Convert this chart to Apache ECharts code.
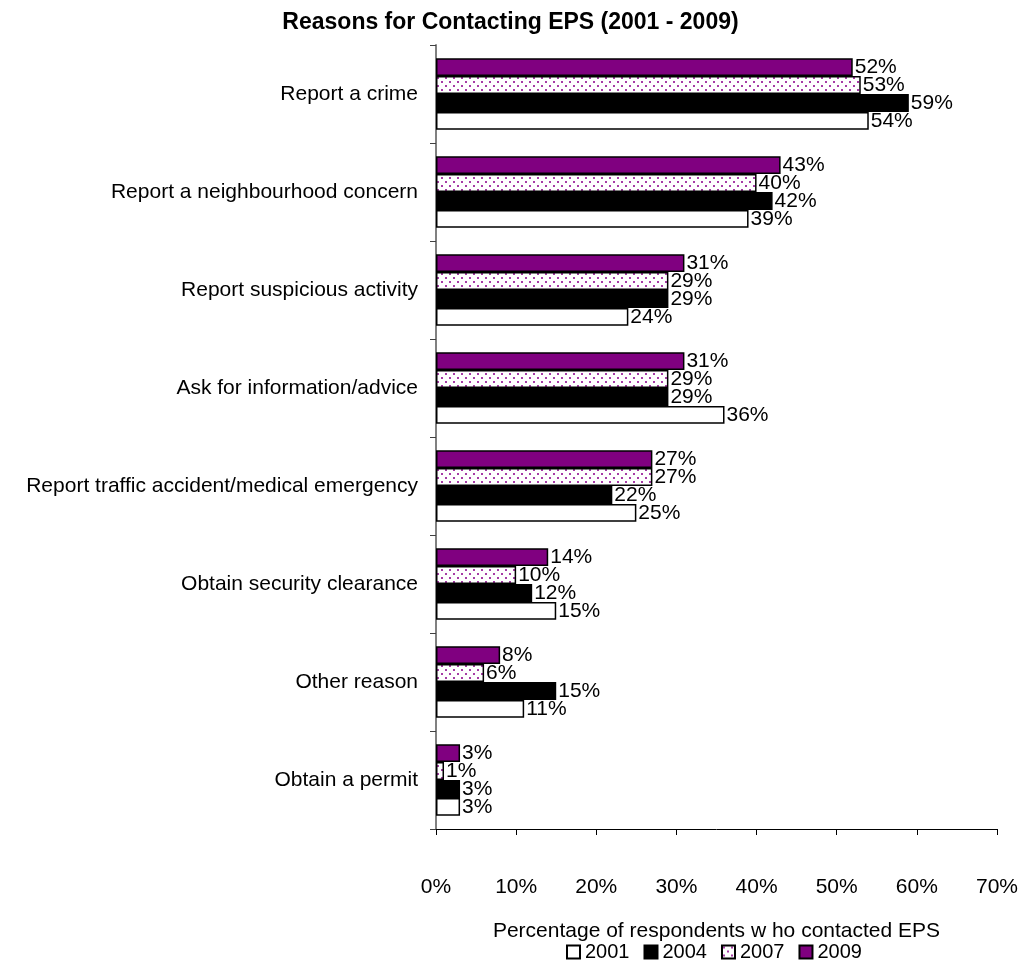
<!DOCTYPE html>
<html>
<head>
<meta charset="utf-8">
<script src="https://cdn.jsdelivr.net/npm/echarts@6/dist/echarts.min.js"></script>
<style>
  html, body { margin: 0; padding: 0; background: #fff; }
  #main { width: 1021px; height: 964px; }
</style>
</head>
<body>
<div id="main"></div>
<script>
// categories, bottom to top (ECharts draws the first category at the bottom)
var categories = [
  'Obtain a permit',
  'Other reason',
  'Obtain security clearance',
  'Report traffic accident/medical emergency',
  'Ask for information/advice',
  'Report suspicious activity',
  'Report a neighbourhood concern',
  'Report a crime'
];
var years = ['2001', '2004', '2007', '2009'];
var v2001 = [3, 11, 15, 25, 36, 24, 39, 54];
var v2004 = [3, 15, 12, 22, 29, 29, 42, 59];
var v2007 = [1, 6, 10, 27, 29, 29, 40, 53];
var v2009 = [3, 8, 14, 27, 31, 31, 43, 52];
var xTicks = [0, 10, 20, 30, 40, 50, 60, 70];

// dotted fill for 2007
function dotPattern() {
  var c = document.createElement('canvas');
  c.width = 8; c.height = 8;
  var ctx = c.getContext('2d');
  ctx.fillStyle = '#ffffff';
  ctx.fillRect(0, 0, 8, 8);
  ctx.fillStyle = '#a63ca6';
  ctx.fillRect(1, 1, 2, 2);
  ctx.fillRect(5, 5, 2, 2);
  return c;
}

var fills = {
  '2001': '#ffffff',
  '2004': '#000000',
  '2007': { image: dotPattern(), repeat: 'repeat' },
  '2009': '#800080'
};
var values = { '2001': v2001, '2004': v2004, '2007': v2007, '2009': v2009 };

var font = 'Liberation Sans, Arial, sans-serif';

// first series is drawn on top within each group, so go from 2009 down to 2001
var series = years.slice().reverse().map(function (y) {
  return {
    name: y,
    type: 'bar',
    data: values[y],
    barGap: '0%',
    barCategoryGap: '27%',
    itemStyle: { color: fills[y], borderColor: '#000', borderWidth: 1.5 },
    label: {
      show: true,
      position: 'right',
      distance: 2,
      formatter: '{c}%',
      color: '#000',
      fontSize: 21,
      fontFamily: font
    }
  };
});

var myChart = echarts.init(document.getElementById('main'));
myChart.setOption({
  animation: false,
  textStyle: { fontFamily: font },
  title: {
    text: 'Reasons for Contacting EPS (2001 - 2009)',
    left: 'center',
    top: 6,
    textStyle: { fontSize: 23, fontWeight: 'bold', color: '#000', fontFamily: font }
  },
  legend: {
    top: 937,
    left: 561,
    itemWidth: 13,
    itemHeight: 13,
    itemGap: 14,
    icon: 'rect',
    textStyle: { fontSize: 20, color: '#000', fontFamily: font },
    data: years
  },
  grid: { left: 436, right: 24, top: 45, bottom: 135, containLabel: false },
  xAxis: {
    type: 'value',
    min: 0,
    max: 70,
    interval: 10,
    name: 'Percentage of respondents w ho contacted EPS',
    nameLocation: 'middle',
    nameGap: 92,
    nameTextStyle: { fontSize: 21, color: '#000', fontFamily: font },
    axisLine: { show: true, lineStyle: { color: '#000', width: 1 } },
    axisTick: { show: true, length: 6, lineStyle: { color: '#000' } },
    axisLabel: {
      margin: 48,
      fontSize: 21,
      color: '#000',
      fontFamily: font,
      formatter: function (v) { return xTicks.indexOf(v) >= 0 ? v + '%' : ''; }
    },
    splitLine: { show: false }
  },
  yAxis: {
    type: 'category',
    data: categories,
    axisLine: { show: true, lineStyle: { color: '#808080', width: 2 } },
    axisTick: { show: true, length: 6, lineStyle: { color: '#404040' } },
    axisLabel: { margin: 18, fontSize: 21, color: '#000', fontFamily: font }
  },
  series: series
});
</script>
</body>
</html>
